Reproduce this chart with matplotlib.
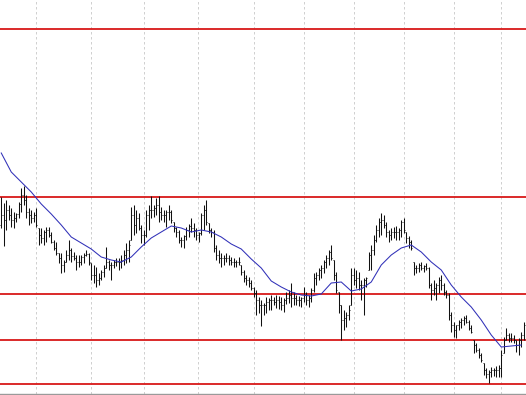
"""Price chart: OHLC bars, moving average and horizontal support / resistance levels."""
import matplotlib

matplotlib.use("Agg")
import matplotlib.pyplot as plt
import numpy as np
import pandas as pd

# bar values, in price points
highs = [
    1403, 1397, 1400, 1395, 1392, 1388, 1387, 1398, 1412, 1414, 1405, 1392, 1390, 1388, 1392,
    1372, 1372, 1370, 1373, 1373, 1368, 1360, 1358, 1347, 1347, 1340, 1350, 1360, 1352, 1348,
    1345, 1345, 1345, 1347, 1350, 1347, 1337, 1335, 1333, 1327, 1330, 1335, 1353, 1340, 1338,
    1340, 1342, 1342, 1345, 1350, 1357, 1360, 1393, 1395, 1390, 1387, 1375, 1370, 1390, 1395,
    1404, 1395, 1402, 1404, 1393, 1390, 1390, 1395, 1390, 1378, 1373, 1370, 1363, 1365, 1373,
    1376, 1382, 1377, 1372, 1368, 1387, 1395, 1400, 1377, 1372, 1370, 1355, 1350, 1347, 1345,
    1347, 1345, 1343, 1342, 1340, 1343, 1335, 1330, 1325, 1323, 1320, 1313, 1310, 1303, 1300,
    1297, 1303, 1302, 1305, 1303, 1305, 1304, 1303, 1302, 1308, 1310, 1317, 1308, 1305, 1304,
    1303, 1313, 1308, 1305, 1312, 1327, 1328, 1332, 1335, 1340, 1345, 1350, 1355, 1340, 1328,
    1308, 1295, 1290, 1288, 1295, 1332, 1332, 1330, 1328, 1320, 1322, 1323, 1348, 1355, 1365,
    1375, 1382, 1387, 1385, 1378, 1370, 1372, 1373, 1374, 1372, 1380, 1382, 1368, 1364, 1360,
    1338, 1335, 1337, 1338, 1335, 1337, 1333, 1317, 1320, 1317, 1323, 1325, 1317, 1310, 1307,
    1288, 1278, 1275, 1280, 1282, 1284, 1285, 1280, 1275, 1260, 1257, 1252, 1247, 1237, 1232,
    1230, 1233, 1232, 1234, 1235, 1250, 1263, 1272, 1267, 1267, 1265, 1260, 1262, 1268, 1278,
]
lows = [
    1372, 1354, 1370, 1380, 1373, 1372, 1378, 1382, 1388, 1395, 1382, 1375, 1377, 1378, 1373,
    1355, 1357, 1355, 1358, 1363, 1357, 1350, 1345, 1337, 1327, 1328, 1338, 1340, 1338, 1340,
    1330, 1333, 1335, 1337, 1344, 1335, 1320, 1317, 1313, 1315, 1320, 1323, 1332, 1330, 1320,
    1332, 1334, 1330, 1332, 1335, 1337, 1338, 1360, 1365, 1367, 1370, 1357, 1355, 1363, 1370,
    1382, 1383, 1385, 1378, 1380, 1378, 1373, 1380, 1377, 1368, 1363, 1357, 1353, 1352, 1360,
    1363, 1368, 1363, 1360, 1358, 1365, 1370, 1375, 1367, 1363, 1348, 1340, 1337, 1333, 1335,
    1338, 1335, 1335, 1333, 1333, 1335, 1325, 1318, 1315, 1313, 1310, 1303, 1285, 1287, 1274,
    1285, 1287, 1290, 1290, 1295, 1292, 1291, 1290, 1288, 1296, 1297, 1293, 1295, 1295, 1294,
    1293, 1298, 1295, 1293, 1298, 1308, 1315, 1320, 1322, 1327, 1332, 1335, 1340, 1320, 1307,
    1287, 1260, 1270, 1273, 1280, 1295, 1315, 1312, 1310, 1300, 1285, 1313, 1330, 1330, 1345,
    1358, 1363, 1365, 1372, 1363, 1358, 1360, 1362, 1360, 1360, 1363, 1367, 1357, 1352, 1350,
    1325, 1327, 1328, 1330, 1328, 1330, 1312, 1300, 1305, 1300, 1307, 1310, 1305, 1302, 1280,
    1268, 1263, 1262, 1270, 1272, 1275, 1277, 1270, 1267, 1247, 1248, 1242, 1238, 1225, 1222,
    1217, 1223, 1224, 1223, 1223, 1223, 1247, 1260, 1258, 1258, 1257, 1248, 1245, 1253, 1260,
]
opens = [
    1375, 1385, 1380, 1390, 1385, 1380, 1382, 1386, 1396, 1405, 1400, 1388, 1385, 1382, 1385,
    1372, 1365, 1362, 1368, 1370, 1365, 1358, 1352, 1347, 1342, 1335, 1338, 1345, 1350, 1344,
    1342, 1338, 1338, 1343, 1345, 1346, 1337, 1325, 1325, 1320, 1322, 1328, 1332, 1338, 1335,
    1335, 1338, 1338, 1338, 1340, 1345, 1350, 1360, 1385, 1375, 1382, 1372, 1365, 1365, 1385,
    1390, 1390, 1392, 1395, 1388, 1385, 1385, 1388, 1388, 1378, 1372, 1368, 1360, 1360, 1364,
    1370, 1374, 1372, 1370, 1365, 1367, 1385, 1390, 1377, 1370, 1368, 1352, 1345, 1342, 1342,
    1342, 1342, 1340, 1338, 1338, 1338, 1335, 1328, 1322, 1320, 1317, 1312, 1307, 1300, 1295,
    1295, 1295, 1298, 1300, 1300, 1298, 1300, 1298, 1295, 1300, 1302, 1305, 1302, 1302, 1300,
    1300, 1302, 1305, 1300, 1302, 1310, 1322, 1325, 1330, 1332, 1338, 1342, 1348, 1340, 1325,
    1308, 1295, 1280, 1282, 1285, 1295, 1325, 1320, 1322, 1315, 1315, 1320, 1330, 1345, 1350,
    1360, 1370, 1378, 1380, 1375, 1368, 1365, 1368, 1368, 1368, 1370, 1378, 1368, 1362, 1358,
    1338, 1332, 1332, 1335, 1332, 1334, 1332, 1315, 1310, 1312, 1315, 1320, 1315, 1308, 1305,
    1285, 1275, 1270, 1275, 1278, 1280, 1282, 1278, 1272, 1260, 1255, 1250, 1245, 1237, 1230,
    1226, 1228, 1230, 1230, 1230, 1232, 1247, 1260, 1265, 1262, 1262, 1260, 1255, 1260, 1265,
]
closes = [
    1385, 1380, 1390, 1385, 1380, 1382, 1386, 1396, 1405, 1400, 1388, 1385, 1382, 1385, 1375,
    1365, 1362, 1368, 1370, 1365, 1358, 1352, 1347, 1342, 1335, 1338, 1345, 1350, 1344, 1342,
    1338, 1338, 1343, 1345, 1346, 1338, 1325, 1325, 1320, 1322, 1328, 1332, 1338, 1335, 1335,
    1338, 1338, 1338, 1340, 1345, 1350, 1355, 1385, 1375, 1382, 1372, 1365, 1365, 1385, 1390,
    1390, 1392, 1395, 1388, 1385, 1385, 1388, 1388, 1380, 1372, 1368, 1360, 1360, 1364, 1370,
    1374, 1372, 1370, 1365, 1367, 1385, 1390, 1378, 1370, 1368, 1352, 1345, 1342, 1342, 1342,
    1342, 1340, 1338, 1338, 1338, 1338, 1328, 1322, 1320, 1317, 1312, 1307, 1300, 1295, 1295,
    1295, 1298, 1300, 1300, 1298, 1300, 1298, 1295, 1300, 1302, 1305, 1302, 1302, 1300, 1300,
    1302, 1305, 1300, 1302, 1310, 1322, 1325, 1330, 1332, 1338, 1342, 1348, 1342, 1325, 1310,
    1295, 1280, 1282, 1285, 1290, 1325, 1320, 1322, 1315, 1315, 1320, 1322, 1345, 1350, 1360,
    1370, 1378, 1380, 1375, 1368, 1365, 1368, 1368, 1368, 1370, 1378, 1370, 1362, 1358, 1352,
    1332, 1332, 1335, 1332, 1334, 1332, 1315, 1310, 1312, 1315, 1320, 1315, 1308, 1305, 1285,
    1275, 1270, 1275, 1278, 1280, 1282, 1278, 1272, 1268, 1255, 1250, 1245, 1240, 1230, 1226,
    1228, 1230, 1230, 1230, 1232, 1245, 1260, 1265, 1262, 1262, 1260, 1255, 1260, 1265, 1275,
]

# moving average, read every 4th bar
ma_step = 4
ma_values = [
    1447, 1428, 1418, 1408, 1396, 1386, 1375, 1363, 1357, 1351, 1343, 1340, 1338, 1343,
    1353, 1362, 1368, 1374, 1372, 1368, 1370, 1368, 1363, 1356, 1351, 1341, 1332, 1319,
    1313, 1308, 1305, 1304, 1306, 1317, 1318, 1309, 1311, 1318, 1335, 1345, 1352, 1355,
    1348, 1338, 1330, 1315, 1303, 1293, 1280, 1265, 1253, 1254, 1255,
]

# horizontal levels
levels = [1571.3, 1403.3, 1306.5, 1260.0, 1216.3]

# bar positions of the period separators
separators = [13.9, 35.8, 57.0, 78.7, 101.1, 121.0, 141.0, 161.1, 181.0, 200.0]


def main() -> None:
    df = pd.DataFrame({"open": opens, "high": highs, "low": lows, "close": closes})
    x = np.arange(len(df))
    ma_x = np.arange(0, len(df), ma_step)[: len(ma_values)]

    fig = plt.figure(figsize=(5.26, 3.95), dpi=100)
    ax = fig.add_axes([0, 1.3 / 395, 1, 393.7 / 395])
    ax.set_facecolor("white")

    ax.set_xticks(separators)
    ax.grid(True, axis="x", color="#c8c8c8", linestyle=(0, (3, 3)), linewidth=0.6)
    ax.set_axisbelow(True)

    for lvl in levels:
        ax.axhline(lvl, color="#d81818", linewidth=1.3, zorder=2)

    ax.vlines(x, df["low"], df["high"], colors="#111111", linewidth=0.75, zorder=3)
    ax.hlines(df["open"], x - 0.45, x, colors="#111111", linewidth=0.6, zorder=3)
    ax.hlines(df["close"], x, x + 0.45, colors="#111111", linewidth=0.6, zorder=3)

    ax.plot(ma_x, ma_values, color="#3030b8", linewidth=0.75, zorder=4)

    ax.set_xlim(-0.5, 209.9)
    ax.set_ylim(1600 - 393.7, 1600)
    ax.tick_params(length=0, labelbottom=False, labelleft=False)
    for side in ("top", "left", "right"):
        ax.spines[side].set_visible(False)
    ax.spines["bottom"].set_color("#9a9a9a")
    ax.spines["bottom"].set_linewidth(1.0)

    fig.savefig("out.png", dpi=100)
    plt.close(fig)


if __name__ == "__main__":
    main()
